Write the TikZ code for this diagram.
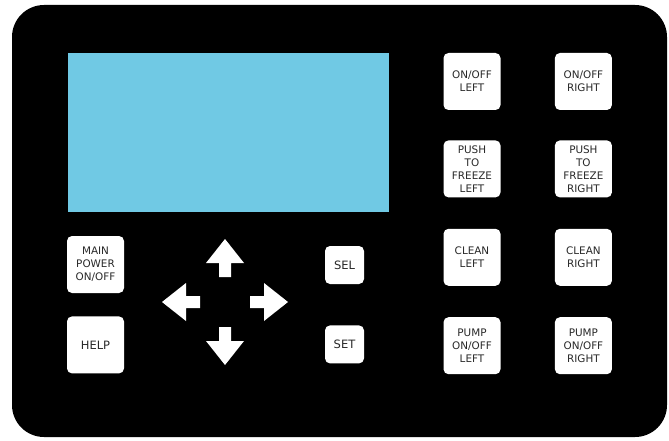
\documentclass[tikz,border=0pt]{standalone}
\usepackage{fontspec}
\setmainfont{DejaVu Sans}
\usetikzlibrary{positioning}
\definecolor{screen_blue}{RGB}{112,201,228}
\definecolor{key_text}{RGB}{40,40,40}

\tikzset{
    keybox/.style={draw=none, rectangle, rounded corners=5pt, fill=white, text=key_text, align=center,
        minimum width=57pt, minimum height=57pt, inner sep=0pt, font=\fontsize{10.4}{13}\selectfont},
    smallkey/.style={keybox, minimum width=39pt, minimum height=38pt, font=\fontsize{11.5}{13}\selectfont}
}

\begin{document}
\begin{tikzpicture}[x=1pt, y=-1pt]

    \useasboundingbox (0,0) rectangle (669,441);

    % --- Begin Panel ---
    \fill[black, rounded corners=32pt] (12,5) rectangle (667,437);
    \node [draw=none, rectangle, fill=screen_blue, minimum width=321pt, minimum height=159pt, inner sep=0pt, anchor=north west] (Screen) at (68,53) {};
    % --- End Panel ---

    % --- Begin Right Keys ---
    \node [keybox] (on_off_left) at (472,81.5) {ON/OFF\\LEFT};
    \node [keybox, right=54pt of on_off_left] (on_off_right) {ON/OFF\\RIGHT};
    \node [keybox, below=30pt of on_off_left] (freeze_left) {PUSH\\TO\\FREEZE\\LEFT};
    \node [keybox, below=30pt of on_off_right] (freeze_right) {PUSH\\TO\\FREEZE\\RIGHT};
    \node [keybox, below=31pt of freeze_left] (clean_left) {CLEAN\\LEFT};
    \node [keybox, below=31pt of freeze_right] (clean_right) {CLEAN\\RIGHT};
    \node [keybox, below=31pt of clean_left] (pump_left) {PUMP\\ON/OFF\\LEFT};
    \node [keybox, below=31pt of clean_right] (pump_right) {PUMP\\ON/OFF\\RIGHT};
    % --- End Right Keys ---

    % --- Begin Left Keys ---
    \node [keybox] (MainPower) at (95.5,264.5) {MAIN\\POWER\\ON/OFF};
    \node [keybox, below=23pt of MainPower, font=\fontsize{11.5}{13}\selectfont] (Help) {HELP};
    \node [smallkey] (Sel) at (344.5,265) {SEL};
    \node [smallkey, below=41pt of Sel] (Set) {SET};
    % --- End Left Keys ---

    % Direction arrows round one centre.
    \coordinate (ArrowCentre) at (225,302);
    \foreach \ang in {0,90,180,270}
        \fill[white, shift={(ArrowCentre)}, rotate=\ang]
            (25,-6) -- (39,-6) -- (39,-19) -- (63,0) -- (39,19) -- (39,6) -- (25,6) -- cycle;

\end{tikzpicture}
\end{document}
